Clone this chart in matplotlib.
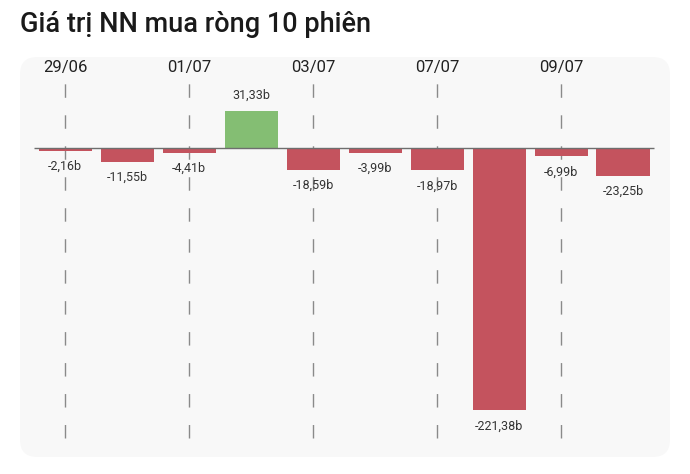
import matplotlib
matplotlib.use("Agg")
import matplotlib.pyplot as plt
from matplotlib.patches import FancyBboxPatch

title = "Giá trị NN mua ròng 10 phiên"
values = [-2.16, -11.55, -4.41, 31.33, -18.59, -3.99, -18.97, -221.38, -6.99, -23.25]
value_labels = ["-2,16b", "-11,55b", "-4,41b", "31,33b", "-18,59b", "-3,99b",
                "-18,97b", "-221,38b", "-6,99b", "-23,25b"]
date_ticks = [0, 2, 4, 6, 8]
date_labels = ["29/06", "01/07", "03/07", "07/07", "09/07"]

RED = "#c4535e"
GREEN = "#84be73"
W, H = 690, 474
fig = plt.figure(figsize=(W / 100, H / 100), dpi=100)
fig.patch.set_facecolor("white")

# panel
panel = FancyBboxPatch((20 / W, (H - 457) / H), 650 / W, 400 / H,
                       boxstyle="round,pad=0,rounding_size=0.025",
                       transform=fig.transFigure, facecolor="#f8f8f8",
                       edgecolor="none", mutation_aspect=W / H, zorder=-5)
fig.patches.append(panel)

fig.text(20 / W, 1 - 25 / H, title, fontsize=19.5, fontweight="medium",
         family=["Roboto", "DejaVu Sans"], color="#1a1a1a", va="center", ha="left")

ax = fig.add_axes([20 / W, (H - 457) / H, 650 / W, 400 / H])
ax.set_zorder(2)
ax.set_facecolor("none")
for s in ax.spines.values():
    s.set_visible(False)
ax.set_xticks([])
ax.set_yticks([])
ax.set_xlim(-0.726, 9.758)
ax.set_ylim(-260.8, 76.8)

xs = list(range(len(values)))
colors = [GREEN if v > 0 else RED for v in values]
ax.bar(xs, values, width=0.855, color=colors, zorder=2)
ax.hlines(0, -0.5, 9.5, color="#6e6e6e", lw=1.0, zorder=3)

for t in date_ticks:
    ax.vlines(t, -244.7, 55.7, color="#8a8a8a", lw=1.0,
              linestyles=(0, (9.7, 12.6)), zorder=1)

for t, lab in zip(date_ticks, date_labels):
    ax.text(t, 68.0, lab, ha="center", va="center", fontsize=12,
            family="Roboto", color="#222222")

for x, v, lab in zip(xs, values, value_labels):
    if v >= 0:
        ax.annotate(lab, (x, v), xytext=(0, 6.5), textcoords="offset points",
                    ha="center", va="bottom", fontsize=9, family="Roboto",
                    color="#333333", zorder=4)
    else:
        ax.annotate(lab, (x, v), xytext=(0, -6.5), textcoords="offset points",
                    ha="center", va="top", fontsize=9, family="Roboto",
                    color="#333333", zorder=4)

fig.savefig("out.png", dpi=100)
